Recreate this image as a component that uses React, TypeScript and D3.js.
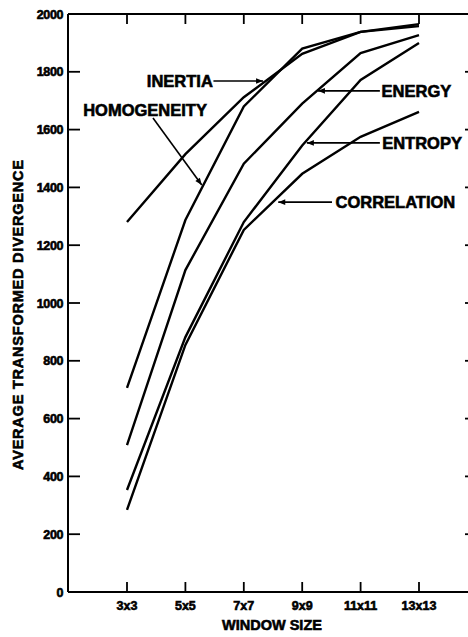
import React from "react";
import * as d3 from "d3";

const categories = ["3x3", "5x5", "7x7", "9x9", "11x11", "13x13"];
const yTicks = [0, 200, 400, 600, 800, 1000, 1200, 1400, 1600, 1800, 2000];
const inertia = [1280, 1515, 1712, 1862, 1938, 1958];
const homogeneity = [706, 1287, 1680, 1880, 1938, 1965];
const energy = [508, 1114, 1482, 1690, 1865, 1927];
const entropy = [353, 882, 1280, 1545, 1772, 1900];
const correlation = [284, 855, 1253, 1447, 1575, 1661];
const seriesList = [inertia, homogeneity, energy, entropy, correlation];

// annotations: label, text anchor point (index,value), arrow from/to (index,value)
const labels = [
  { text: "INERTIA", tx: 1.47, tv: 1768, anchor: "end", from: [1.48, 1768], to: [2.33, 1768] },
  { text: "HOMOGENEITY", tx: -0.75, tv: 1668, anchor: "start", from: [0.445, 1640], to: [1.28, 1408] },
  { text: "ENERGY", tx: 4.36, tv: 1734, anchor: "start", from: [4.33, 1734], to: [3.27, 1734] },
  { text: "ENTROPY", tx: 4.37, tv: 1554, anchor: "start", from: [4.33, 1554], to: [3.08, 1554] },
  { text: "CORRELATION", tx: 3.57, tv: 1349, anchor: "start", from: [3.51, 1349], to: [2.59, 1349] },
];

const W = 468;
const H = 637;
const font = "'Liberation Sans', Arial, sans-serif";
const heavy = { stroke: "#000", strokeWidth: 0.6, paintOrder: "stroke" } as const;

export default function App() {
  const x = d3.scaleLinear().domain([0, 5]).range([127, 419]);
  const y = d3.scaleLinear().domain([0, 2000]).range([592, 14]);
  const left = 68;
  const right = 476;
  const line = d3
    .line<number>()
    .x((_, i) => x(i))
    .y((d) => y(d));

  return (
    <svg
      width={W}
      height={H}
      style={{ position: "absolute", left: 0, top: 0, background: "#fff" }}
      fontFamily={font}
      fontWeight="bold"
    >
      <defs>
        <marker id="arr" viewBox="0 0 10 10" refX="10" refY="5" markerWidth="9" markerHeight="7" orient="auto" markerUnits="userSpaceOnUse">
          <path d="M0,1 L10,5 L0,9 Z" fill="#000" />
        </marker>
      </defs>
      <rect x={0} y={0} width={W} height={H} fill="#fff" />
      {/* frame */}
      <line x1={left} x2={left} y1={y(2000)} y2={y(0)} stroke="#000" strokeWidth={2} />
      <line x1={left} x2={right} y1={y(0)} y2={y(0)} stroke="#000" strokeWidth={2} />
      <line x1={left} x2={right} y1={y(2000)} y2={y(2000)} stroke="#000" strokeWidth={2} />
      <line x1={right} x2={right} y1={y(2000)} y2={y(0)} stroke="#000" strokeWidth={2} />
      {/* y ticks */}
      {yTicks.map((t) => (
        <g key={t}>
          {t > 0 && t < 2000 && (
            <>
              <line x1={left} x2={left + 12} y1={y(t)} y2={y(t)} stroke="#000" strokeWidth={1.8} />
              <line x1={right - 11} x2={right} y1={y(t)} y2={y(t)} stroke="#000" strokeWidth={1.8} />
            </>
          )}
          <text x={63} y={y(t)} dy="0.36em" textAnchor="end" fontSize={12.5} letterSpacing={-0.4} {...heavy}>
            {t}
          </text>
        </g>
      ))}
      {/* x ticks */}
      {categories.map((c, i) => (
        <g key={c}>
          <line x1={x(i)} x2={x(i)} y1={y(0)} y2={y(0) - 10} stroke="#000" strokeWidth={1.8} />
          <line x1={x(i)} x2={x(i)} y1={y(2000)} y2={y(2000) + 10} stroke="#000" strokeWidth={1.8} />
          <text x={x(i)} y={y(0) + 18} textAnchor="middle" fontSize={12.5} {...heavy}>
            {c}
          </text>
        </g>
      ))}
      {/* axis titles */}
      <text x={272} y={630} textAnchor="middle" fontSize={14.5} {...heavy}>
        WINDOW SIZE
      </text>
      <text
        transform={`translate(23, ${315}) rotate(-90)`}
        textAnchor="middle"
        fontSize={14.5}
        textLength={310}
        lengthAdjust="spacing"
        {...heavy}
      >
        AVERAGE TRANSFORMED DIVERGENCE
      </text>
      {/* series */}
      {seriesList.map((s, k) => (
        <path key={k} d={line(s) || ""} fill="none" stroke="#000" strokeWidth={2.4} strokeLinejoin="miter" />
      ))}
      {/* labels */}
      {labels.map((l) => (
        <g key={l.text}>
          <line
            x1={x(l.from[0])}
            y1={y(l.from[1])}
            x2={x(l.to[0])}
            y2={y(l.to[1])}
            stroke="#000"
            strokeWidth={1.6}
            markerEnd="url(#arr)"
          />
          <text x={x(l.tx)} y={y(l.tv)} dy="0.36em" textAnchor={l.anchor} fontSize={16.5} {...heavy}>
            {l.text}
          </text>
        </g>
      ))}
    </svg>
  );
}
